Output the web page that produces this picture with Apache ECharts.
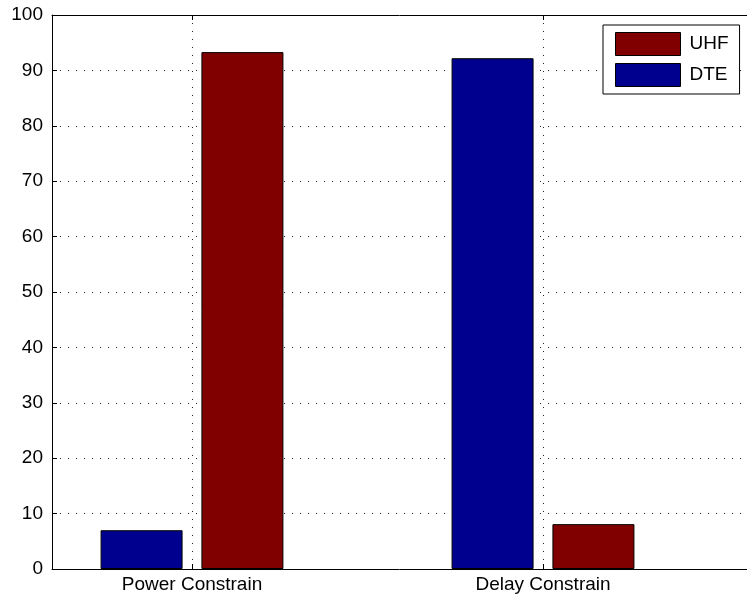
<!DOCTYPE html>
<html><head><meta charset="utf-8">
<script src="https://cdn.jsdelivr.net/npm/echarts@6/dist/echarts.min.js"></script>
<style>html,body{margin:0;padding:0;background:#fff}#c{width:747px;height:601px}</style>
</head><body><div id="c"></div>
<script>
const categories = ['Power Constrain', 'Delay Constrain'];
const dteValues = [7.0, 92.2];
const uhfValues = [93.3, 8.1];
const yMin = 0, yMax = 100, yStep = 10;

const FONT = "'Liberation Sans', Arial, sans-serif";
const dotted = { type: [1, 7], color: '#222', width: 1 };
const frameAxis = (pos) => ({ gridIndex: 0, type: 'category', data: [''], position: pos,
  axisLine: { show: true, onZero: false, lineStyle: { color: '#000', width: 1 } },
  axisTick: { show: false }, axisLabel: { show: false },
  splitLine: { show: false } });
const chart = echarts.init(document.getElementById('c'), null, { renderer: 'canvas' });
chart.setOption({
  animation: false,
  backgroundColor: '#fff',
  grid: [
    { left: 52, top: 15, right: 0, bottom: 32, outerBoundsMode: 'none', containLabel: false },
    { left: 192, top: 15, right: 204, bottom: 32, outerBoundsMode: 'none', containLabel: false }
  ],
  xAxis: [
    frameAxis('bottom'),
    frameAxis('top'),
    { gridIndex: 1, type: 'category', data: categories, boundaryGap: false, position: 'bottom',
      axisLine: { show: false },
      axisTick: { show: true, inside: true, length: 5, lineStyle: { color: '#000' } },
      axisLabel: { fontFamily: FONT, fontSize: 19, color: '#000', margin: 6 },
      splitLine: { show: true, lineStyle: dotted } },
    { gridIndex: 1, type: 'category', data: categories, boundaryGap: false, position: 'top',
      axisLine: { show: false },
      axisTick: { show: true, inside: true, length: 5, lineStyle: { color: '#000' } },
      axisLabel: { show: false }, splitLine: { show: false } }
  ],
  yAxis: [
    { gridIndex: 0, type: 'value', min: yMin, max: yMax, interval: yStep,
      axisLine: { show: true, lineStyle: { color: '#000' } },
      axisTick: { show: true, inside: true, length: 5, lineStyle: { color: '#000' } },
      axisLabel: { fontFamily: FONT, fontSize: 19, color: '#000', margin: 9 },
      splitLine: { show: true, lineStyle: dotted } },
    { gridIndex: 1, type: 'value', min: yMin, max: yMax, interval: yStep, show: false }
  ],
  legend: {
    data: ['UHF', 'DTE'], orient: 'vertical', left: 603, top: 25,
    icon: 'rect', itemWidth: 65, itemHeight: 23, itemGap: 7, padding: [7, 11, 7, 12],
    borderColor: '#000', borderWidth: 1, backgroundColor: '#fff', borderRadius: 0,
    itemStyle: { borderColor: '#000', borderWidth: 1 },
    textStyle: { fontFamily: FONT, fontSize: 19, color: '#000', padding: [0, 0, 0, 4] }, z: 10
  },
  series: [
    { name: 'DTE', type: 'bar', xAxisIndex: 2, yAxisIndex: 1, data: dteValues, clip: false,
      barWidth: 82, barGap: '23%', itemStyle: { color: '#00008F', borderColor: '#000', borderWidth: 1 } },
    { name: 'UHF', type: 'bar', xAxisIndex: 2, yAxisIndex: 1, data: uhfValues, clip: false,
      barWidth: 82, barGap: '23%', itemStyle: { color: '#800000', borderColor: '#000', borderWidth: 1 } }
  ]
});
</script></body></html>
